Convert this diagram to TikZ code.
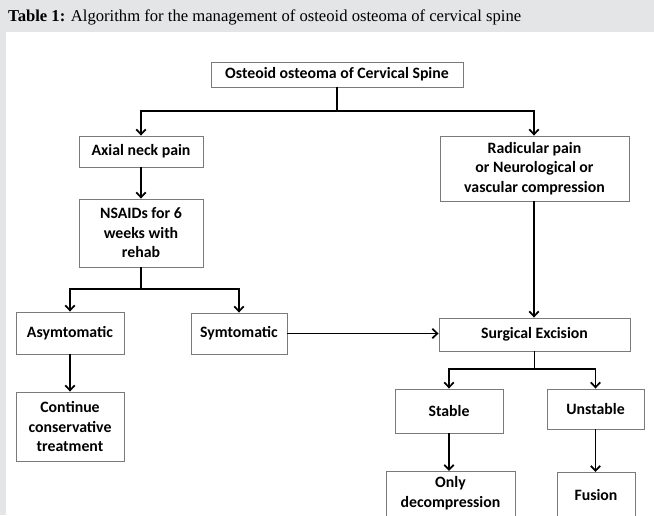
\documentclass[tikz,border=0pt]{standalone}
\usepackage{fontspec}
\setmainfont{Liberation Serif}
\newfontfamily\boxfont{Carlito}
\usetikzlibrary{arrows.meta,shadows}
\definecolor{hdrgray}{HTML}{E4E5E6}
\definecolor{boxline}{HTML}{7A7A7A}
\tikzset{
  every picture/.style={x=1pt,y=-1pt},
  boxtext/.style={inner sep=0pt, font=\boxfont\bfseries\fontsize{15.8}{19.5}\selectfont, align=center},
  fbox/.style={boxtext, draw=boxline, line width=0.9pt, fill=white,
    drop shadow={shadow xshift=1.3pt, shadow yshift=-1.3pt, opacity=0.3, fill=gray}},
  conn/.style={line width=1.8pt, black},
  arr/.style={conn, -{Straight Barb[length=5pt,width=9.5pt,line width=1.7pt]}}
}
\begin{document}
\begin{tikzpicture}
\useasboundingbox (0,0) rectangle (654,515);
\fill[white] (0,0) rectangle (654,515);
\fill[hdrgray] (0,0) rectangle (654,32);
\fill[hdrgray] (0,32) rectangle (5.5,515);
\node[anchor=base west, inner sep=0pt] (title) at (8,21)
  {\resizebox{513pt}{!}{\fontsize{15.5}{18}\selectfont\textbf{Table 1:} Algorithm for the management of osteoid osteoma of cervical spine}};
\begin{scope}
\clip (5.5,32) rectangle (654,515);
\node[fbox, minimum width=252pt, minimum height=25pt] (top) at (337,74.5) {Osteoid osteoma of Cervical Spine};
\node[fbox, minimum width=124pt, minimum height=31pt] (axial) at (141,151.5) {Axial neck pain};
\node[fbox, minimum width=124pt, minimum height=68pt] (nsaid) at (141,233) {NSAIDs for 6\\weeks with\\rehab};
\node[fbox, minimum width=189pt, minimum height=65pt] (radic) at (534.5,168.5) {Radicular pain\\or Neurological or\\vascular compression};
\node[fbox, minimum width=108pt, minimum height=42pt] (asym) at (70,333) {Asymtomatic};
\node[fbox, minimum width=96pt, minimum height=41pt] (sym) at (239,333.5) {Symtomatic};
\node[fbox, minimum width=108pt, minimum height=69pt] (cont) at (70,426.5) {Continue\\conservative\\treatment};
\node[fbox, minimum width=191pt, minimum height=33pt] (surg) at (534.5,334.5) {Surgical Excision};
\node[fbox, minimum width=108pt, minimum height=44pt] (stable) at (449,411) {Stable};
\node[fbox, minimum width=97pt, minimum height=40pt] (unstable) at (595.5,409) {Unstable};
\node[fbox, minimum width=129pt, minimum height=60pt, anchor=north] (only) at (450.5,471) {};
\node[boxtext] (onlyt) at (450.5,493) {Only\\decompression};
\node[fbox, minimum width=78pt, minimum height=60pt, anchor=north] (fusion) at (596,472) {};
\node[boxtext] (fusiont) at (596,495) {Fusion};
% connectors
\coordinate (j1) at (337,111);
\draw[conn] (top.south) -- (j1);
\draw[arr] (j1) -| (axial.north);
\draw[arr] (j1) -| ([xshift=-0.5pt]radic.north);
\draw[arr] (axial.south) -- (nsaid.north);
\coordinate (j2) at (141,289);
\draw[conn] (nsaid.south) -- (j2);
\draw[arr] (j2) -| (asym.north);
\draw[arr] (j2) -| (sym.north);
\draw[arr] (asym.south) -- (cont.north);
\draw[arr] (sym.east) -- (sym.east -| surg.west);
\draw[arr] ([xshift=-0.5pt]radic.south) -- ([xshift=-0.5pt]surg.north);
\coordinate (j3) at (534.5,369);
\draw[conn] (surg.south) -- (j3);
\draw[arr] (j3) -| (stable.north);
\draw[arr] (j3) -| (unstable.north);
\draw[arr] (stable.south) -- (stable.south |- only.north);
\draw[arr] (unstable.south) -- (unstable.south |- fusion.north);
\end{scope}
\end{tikzpicture}
\end{document}
